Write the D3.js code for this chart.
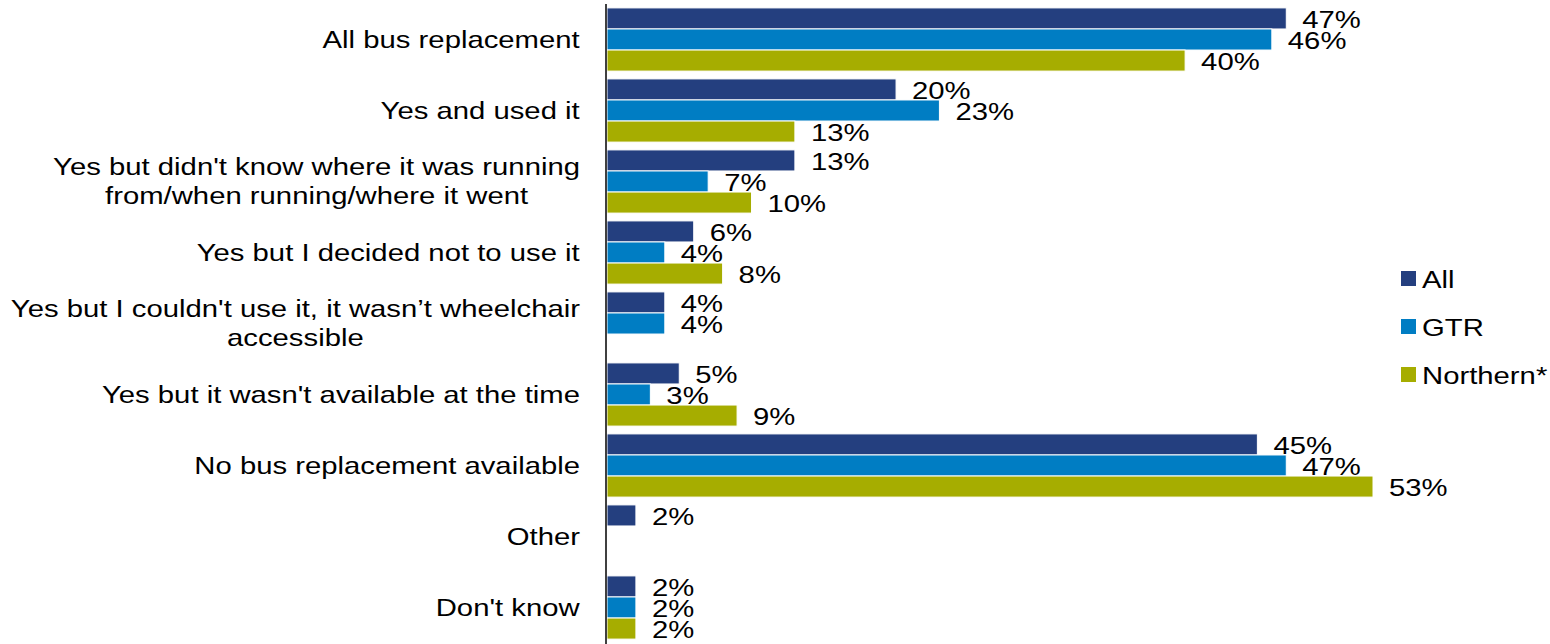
<!DOCTYPE html>
<html>
<head>
<meta charset="utf-8">
<script src="https://cdn.jsdelivr.net/npm/d3@7"></script>
<style>
  html, body { margin: 0; padding: 0; background: #fff; }
  svg { display: block; font-family: Arial, "Liberation Sans", sans-serif; }
</style>
</head>
<body>
<svg id="chart" width="1550" height="644"></svg>
<script>
// Category labels (each entry is the list of wrapped lines)
const categories = [
  ["All bus replacement"],
  ["Yes and used it"],
  ["Yes but didn't know where it was running", "from/when running/where it went"],
  ["Yes but I decided not to use it"],
  ["Yes but I couldn't use it, it wasn\u2019t wheelchair", "accessible"],
  ["Yes but it wasn't available at the time"],
  ["No bus replacement available"],
  ["Other"],
  ["Don't know"]
];

// Share of respondents (%) per series; null = no bar
const allValues      = [47, 20, 13, 6, 4, 5, 45, 2, 2];
const gtrValues      = [46, 23, 7, 4, 4, 3, 47, null, 2];
const northernValues = [40, 13, 10, 8, null, 9, 53, null, 2];

const seriesNames = ["All", "GTR", "Northern*"];
const seriesColors = ["#243f7f", "#007dc3", "#a6ad00"];
const seriesValues = [allValues, gtrValues, northernValues];

// Text is set slightly wide: 24px glyph height, stretched horizontally
const FONT = 24;
const STRETCH = 1.22;

const svg = d3.select("#chart");

const axisX = 607;
const x = d3.scaleLinear().domain([0, 53]).range([axisX, 1373]);

const y = d3.scaleBand()
  .domain(d3.range(categories.length))
  .range([4, 643])
  .paddingInner(0.11)
  .paddingOuter(0.055);

const ySub = d3.scaleBand()
  .domain(d3.range(seriesNames.length))
  .range([0, y.bandwidth()]);

function wideText(parent, px, py, anchor, str) {
  const g = parent.append("g")
    .attr("transform", `translate(${px},${py}) scale(${STRETCH},1)`);
  return g.append("text")
    .attr("text-anchor", anchor)
    .attr("dominant-baseline", "central")
    .attr("font-size", FONT)
    .attr("fill", "#000")
    .text(str);
}

// Bars with value labels
const groups = svg.append("g").selectAll("g")
  .data(categories)
  .join("g")
  .attr("transform", (d, i) => `translate(0,${y(i)})`);

const labelLayer = svg.append("g");

seriesValues.forEach((vals, s) => {
  vals.forEach((v, i) => {
    if (v == null) return;
    groups.filter((d, j) => j === i).append("rect")
      .attr("x", x(0))
      .attr("y", ySub(s))
      .attr("width", x(v) - x(0))
      .attr("height", ySub.bandwidth())
      .attr("fill", seriesColors[s])
      .attr("stroke", "#ffffff")
      .attr("stroke-width", 1);
    wideText(labelLayer, x(v) + 16, y(i) + ySub(s) + ySub.bandwidth() / 2 + 1, "start", v + "%");
  });
});

// Category axis line
svg.append("line")
  .attr("x1", axisX - 1).attr("x2", axisX - 1)
  .attr("y1", 4).attr("y2", 644)
  .attr("stroke", "#000")
  .attr("stroke-width", 1.5);

// Category labels: wrapped lines centred on each other, block right-aligned
const labelRight = 580;
const lineHeight = 29;
categories.forEach((lines, i) => {
  const cy = y(i) + y.bandwidth() / 2;
  const g = svg.append("g")
    .attr("transform", `translate(${labelRight},${cy}) scale(${STRETCH},1)`);
  const t = g.append("text")
    .attr("font-size", FONT)
    .attr("fill", "#000")
    .attr("text-anchor", "middle");
  lines.forEach((ln, k) => {
    t.append("tspan")
      .attr("x", 0)
      .attr("y", (k - (lines.length - 1) / 2) * lineHeight)
      .attr("dominant-baseline", "central")
      .text(ln);
  });
  const w = t.node().getBBox().width;
  t.selectAll("tspan").attr("x", -w / 2);
});

// Legend
const legend = svg.append("g").attr("transform", "translate(1401,271)");
seriesNames.forEach((name, s) => {
  const row = legend.append("g").attr("transform", `translate(0,${s * 48})`);
  row.append("rect")
    .attr("width", 15).attr("height", 15)
    .attr("fill", seriesColors[s]);
  wideText(row, 21, 9, "start", name);
});
</script>
</body>
</html>
